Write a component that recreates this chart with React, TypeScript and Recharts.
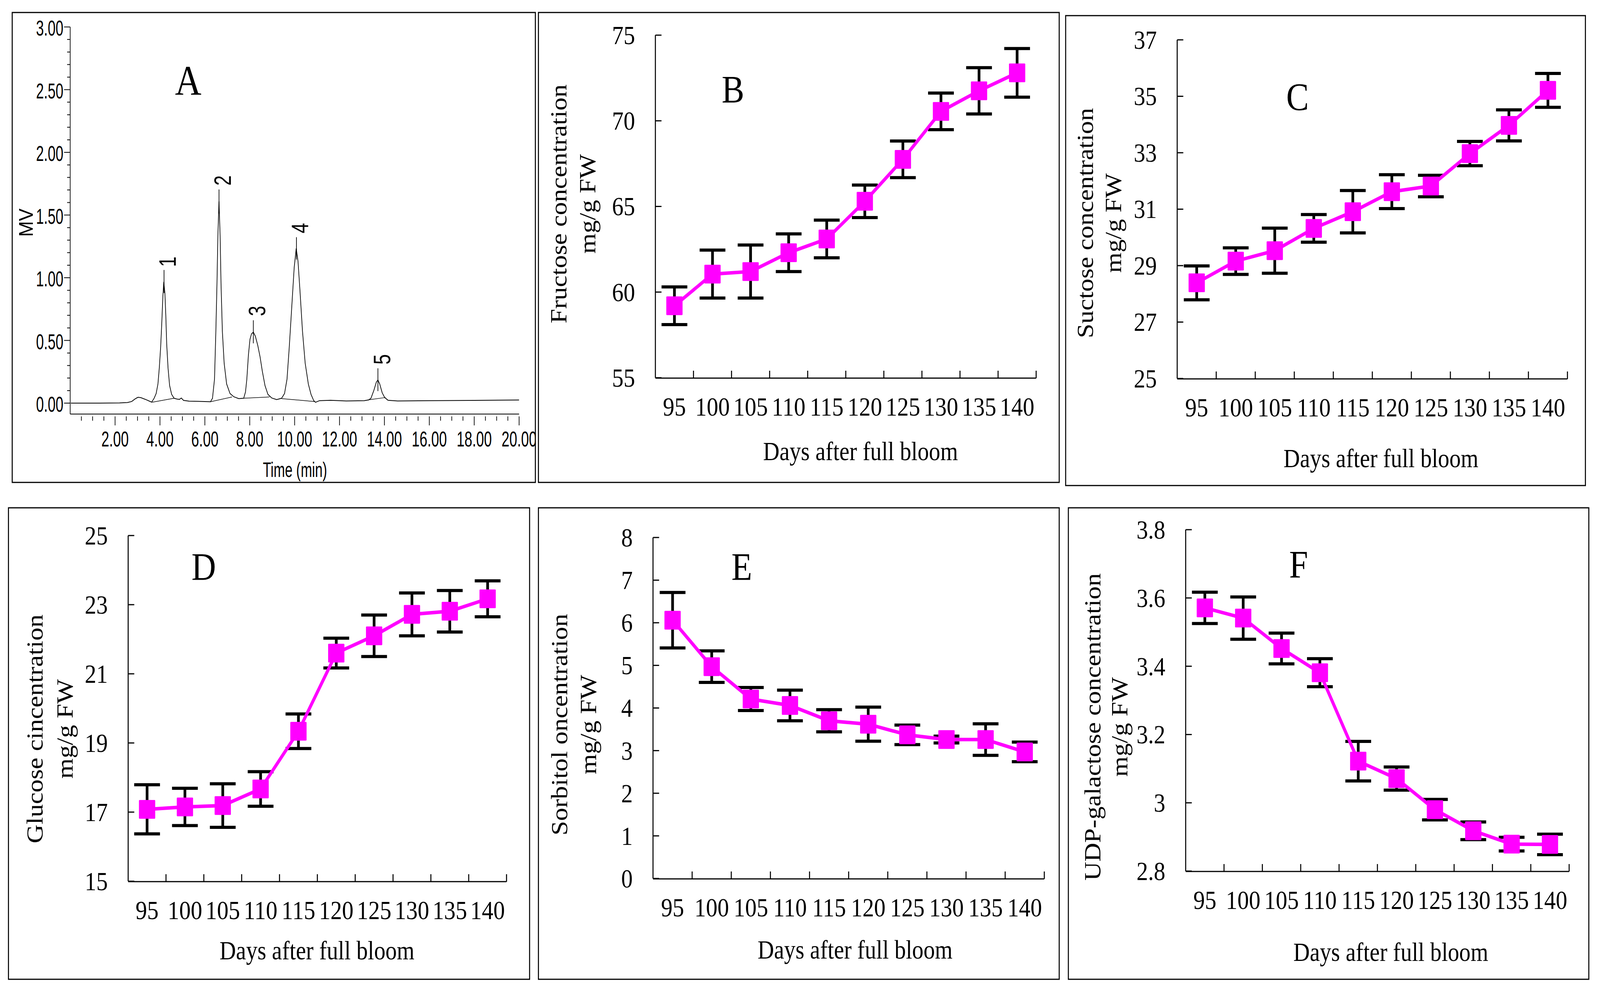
import React from 'react';
import { ComposedChart, LineChart, Line, XAxis, YAxis, ErrorBar } from 'recharts';

// ---------- data ----------
const DAYS = [95, 100, 105, 110, 115, 120, 125, 130, 135, 140];
const DAY_BOUNDS = [97.5, 102.5, 107.5, 112.5, 117.5, 122.5, 127.5, 132.5, 137.5, 142.5];

const FRUCTOSE = [59.2, 61.05, 61.2, 62.3, 63.1, 65.3, 67.75, 70.55, 71.75, 72.8];
const FRUCTOSE_ERR = [1.1, 1.4, 1.55, 1.1, 1.1, 0.95, 1.07, 1.07, 1.35, 1.42];
const SUCROSE = [28.39, 29.16, 29.53, 30.32, 30.91, 31.62, 31.82, 32.97, 33.97, 35.21];
const SUCROSE_ERR = [0.6, 0.47, 0.8, 0.49, 0.75, 0.6, 0.38, 0.43, 0.55, 0.6];
const GLUCOSE = [17.08, 17.15, 17.19, 17.67, 19.34, 21.6, 22.1, 22.72, 22.81, 23.17];
const GLUCOSE_ERR = [0.71, 0.54, 0.63, 0.5, 0.5, 0.43, 0.6, 0.62, 0.6, 0.52];
const SORBITOL = [6.06, 4.97, 4.21, 4.06, 3.7, 3.62, 3.37, 3.26, 3.26, 2.97];
const SORBITOL_ERR = [0.65, 0.37, 0.27, 0.36, 0.26, 0.4, 0.23, 0.08, 0.37, 0.23];
const UDPGAL = [3.571, 3.541, 3.452, 3.381, 3.122, 3.071, 2.98, 2.918, 2.879, 2.878];
const UDPGAL_ERR = [0.046, 0.062, 0.045, 0.041, 0.058, 0.034, 0.03, 0.026, 0.02, 0.03];

const TICKS_B = [55, 60, 65, 70, 75];
const TICKS_C = [25, 27, 29, 31, 33, 35, 37];
const TICKS_D = [15, 17, 19, 21, 23, 25];
const TICKS_E = [0, 1, 2, 3, 4, 5, 6, 7, 8];
const TICKS_F = [2.8, 3, 3.2, 3.4, 3.6, 3.8];

// chromatogram trace (time in min, signal in MV)
const TRACE_T = [0.03, 1.0, 2.2, 2.55, 2.74, 2.9, 3.02, 3.15, 3.35, 3.63, 3.74, 3.83, 3.91, 3.97, 4.03, 4.08, 4.13, 4.17, 4.22, 4.26, 4.3, 4.36, 4.43, 4.52, 4.63, 4.75, 4.87, 4.95, 5.05, 5.3, 6.0, 6.25, 6.34, 6.43, 6.49, 6.54, 6.58, 6.63, 6.68, 6.72, 6.78, 6.86, 6.97, 7.12, 7.29, 7.51, 7.73, 7.81, 7.87, 7.94, 8.01, 8.08, 8.16, 8.25, 8.36, 8.46, 8.56, 8.68, 8.81, 8.98, 9.2, 9.42, 9.55, 9.66, 9.76, 9.87, 9.98, 10.07, 10.15, 10.24, 10.35, 10.47, 10.61, 10.73, 10.85, 10.93, 11.11, 11.6, 12.3, 13.1, 13.3, 13.4, 13.53, 13.64, 13.71, 13.79, 13.9, 14.01, 14.16, 14.6, 16, 18, 20];
const TRACE_MV = [0, 0, 0.002, 0.005, 0.013, 0.035, 0.047, 0.044, 0.03, 0.008, 0.039, 0.077, 0.153, 0.28, 0.445, 0.636, 0.852, 0.967, 0.878, 0.7, 0.471, 0.28, 0.14, 0.07, 0.039, 0.033, 0.03, 0.041, 0.022, 0.016, 0.013, 0.011, 0.039, 0.191, 0.573, 0.954, 1.335, 1.609, 1.335, 0.954, 0.573, 0.318, 0.153, 0.077, 0.051, 0.036, 0.039, 0.089, 0.191, 0.382, 0.509, 0.553, 0.566, 0.534, 0.458, 0.369, 0.255, 0.14, 0.07, 0.041, 0.028, 0.039, 0.077, 0.191, 0.445, 0.763, 1.081, 1.234, 1.132, 0.89, 0.573, 0.318, 0.153, 0.07, 0.02, 0.007, 0.02, 0.023, 0.017, 0.02, 0.026, 0.039, 0.102, 0.168, 0.185, 0.153, 0.083, 0.045, 0.023, 0.017, 0.02, 0.022, 0.025];

// integration baselines: [t1, mv1, t2, mv2]
const BASELINES = [
  [3.65, 0.007, 4.63, 0.039],
  [6.25, 0.011, 7.21, 0.049],
  [7.73, 0.039, 8.88, 0.049],
  [9.42, 0.036, 10.89, 0.013],
  [13.27, 0.026, 14.05, 0.045],
];
// peak marker ticks: [t, top, bottom]
const PEAK_MARKS = [
  [4.18, 1.062, 0.878],
  [6.63, 1.704, 1.513],
  [8.16, 0.661, 0.477],
  [10.08, 1.323, 1.145],
  [13.71, 0.278, 0.096],
];
const PEAK_NAMES = ['1', '2', '3', '4', '5'];
const PEAK_LABEL_T = [4.32, 6.78, 8.31, 10.23, 13.87];
const PEAK_LABEL_MV = [1.128, 1.776, 0.735, 1.396, 0.349];

const A_Y_TICKS = [0, 0.1, 0.2, 0.3, 0.4, 0.5, 0.6, 0.7, 0.8, 0.9, 1, 1.1, 1.2, 1.3, 1.4, 1.5, 1.6, 1.7, 1.8, 1.9, 2, 2.1, 2.2, 2.3, 2.4, 2.5, 2.6, 2.7, 2.8, 2.9, 3];
const A_X_TICKS = [0.5, 1, 1.5, 2, 2.5, 3, 3.5, 4, 4.5, 5, 5.5, 6, 6.5, 7, 7.5, 8, 8.5, 9, 9.5, 10, 10.5, 11, 11.5, 12, 12.5, 13, 13.5, 14, 14.5, 15, 15.5, 16, 16.5, 17, 17.5, 18, 18.5, 19, 19.5, 20];

// ---------- styles ----------
const SERIF = '"Liberation Serif", "Times New Roman", serif';
const SANS = '"Liberation Sans", Arial, sans-serif';
const MAGENTA = '#FF00FF';
const FIG_W = 4719;
const FIG_H = 2537;

type Box = { l: number; t: number; w: number; h: number };
type Plot = { l: number; t: number; r: number; b: number };

const BOX_A: Box = { l: 36, t: 32, w: 1543, h: 1203 };
const PLOT_A: Plot = { l: 207, t: 69, r: 1531, b: 1060 };

type PanelCfg = {
  box: Box;
  plot: Plot;
  values: number[];
  errors: number[];
  domain: [number, number];
  ticks: number[];
  title1: string;
  title2: string;
  xTitleX: number;
  xTitleY: number;
  yLine1X: number;
  yLine2X: number;
  yTitleY: number;
  letter: string;
  letterX: number;
  letterY: number;
};

const PANELS: PanelCfg[] = [
  {
    box: { l: 1588, t: 32, w: 1536, h: 1203 }, plot: { l: 1933, t: 90, r: 3056, b: 967 },
    values: FRUCTOSE, errors: FRUCTOSE_ERR, domain: [55, 75], ticks: TICKS_B,
    title1: 'Fructose concentration', title2: 'mg/g FW',
    xTitleX: 2538, xTitleY: 1178, yLine1X: 1671, yLine2X: 1756, yTitleY: 522,
    letter: 'B', letterX: 2162, letterY: 262,
  },
  {
    box: { l: 3143, t: 40, w: 1533, h: 1203 }, plot: { l: 3472, t: 102, r: 4623, b: 969 },
    values: SUCROSE, errors: SUCROSE_ERR, domain: [25, 37], ticks: TICKS_C,
    title1: 'Suctose concentration', title2: 'mg/g FW',
    xTitleX: 4073, xTitleY: 1196, yLine1X: 3223, yLine2X: 3306, yTitleY: 571,
    letter: 'C', letterX: 3827, letterY: 281,
  },
  {
    box: { l: 25, t: 1300, w: 1537, h: 1207 }, plot: { l: 378, t: 1371, r: 1494, b: 2256 },
    values: GLUCOSE, errors: GLUCOSE_ERR, domain: [15, 25], ticks: TICKS_D,
    title1: 'Glucose cincentration', title2: 'mg/g FW',
    xTitleX: 935, xTitleY: 2456, yLine1X: 126, yLine2X: 214, yTitleY: 1866,
    letter: 'D', letterX: 601, letterY: 1484,
  },
  {
    box: { l: 1588, t: 1300, w: 1536, h: 1207 }, plot: { l: 1926, t: 1376, r: 3080, b: 2249 },
    values: SORBITOL, errors: SORBITOL_ERR, domain: [0, 8], ticks: TICKS_E,
    title1: 'Sorbitol oncentration', title2: 'mg/g FW',
    xTitleX: 2522, xTitleY: 2454, yLine1X: 1673, yLine2X: 1758, yTitleY: 1855,
    letter: 'E', letterX: 2188, letterY: 1484,
  },
  {
    box: { l: 3151, t: 1300, w: 1535, h: 1207 }, plot: { l: 3497, t: 1356, r: 4628, b: 2230 },
    values: UDPGAL, errors: UDPGAL_ERR, domain: [2.8, 3.8], ticks: TICKS_F,
    title1: 'UDP-galactose concentration', title2: 'mg/g FW',
    xTitleX: 4102, xTitleY: 2460, yLine1X: 3245, yLine2X: 3325, yTitleY: 1861,
    letter: 'F', letterX: 3830, letterY: 1478,
  },
];

// ---------- panels B-F ----------
const SquareDot = (p: any) => {
  if (p.cx == null || p.cy == null) return <g key={`sq-${p.index}`} />;
  return <rect key={`sq-${p.index}`} x={p.cx - 24} y={p.cy - 24} width={48} height={48} rx={2} fill={MAGENTA} />;
};

const DayTick = (p: any) => (
  <text x={p.x} y={p.y + 97} textAnchor="middle" fontFamily={SERIF} fontSize={68} fill="#000">
    {p.payload.value}
  </text>
);

const ValTick = (p: any) => (
  <text x={p.x} y={p.y + 23} textAnchor="end" fontFamily={SERIF} fontSize={68} fill="#000">
    {p.payload.value}
  </text>
);

const EmptyTick = () => <g />;

function LinePanel({ cfg }: { cfg: PanelCfg }) {
  const { box, plot } = cfg;
  const rows = DAYS.map((d, i) => ({ day: d, v: cfg.values[i], e: cfg.errors[i] }));
  const YW = 60;
  const margin = {
    left: plot.l - box.l - YW,
    top: plot.t - box.t,
    right: box.l + box.w - plot.r,
    bottom: box.t + box.h - plot.b - 2,
  };
  const xTitle = () => (
    <text x={cfg.xTitleX - box.l} y={cfg.xTitleY - box.t} textAnchor="middle" fontFamily={SERIF} fontSize={67} fill="#000">
      Days after full bloom
    </text>
  );
  const yTitle = () => (
    <g>
      <text transform={`translate(${cfg.yLine1X - box.l},${cfg.yTitleY - box.t}) rotate(-90)`} textAnchor="middle" fontFamily={SERIF} fontSize={67} fill="#000">
        {cfg.title1}
      </text>
      <text transform={`translate(${cfg.yLine2X - box.l},${cfg.yTitleY - box.t}) rotate(-90)`} textAnchor="middle" fontFamily={SERIF} fontSize={67} fill="#000">
        {cfg.title2}
      </text>
    </g>
  );
  return (
    <div style={{ position: 'absolute', left: box.l, top: box.t, width: box.w, height: box.h }}>
      <LineChart width={box.w} height={box.h} data={rows} margin={margin}>
        <XAxis
          xAxisId="grid" type="number" dataKey="day" domain={[92.5, 142.5]} ticks={DAY_BOUNDS}
          interval={0} height={1} tickSize={-19} tick={EmptyTick} allowDataOverflow
          axisLine={{ stroke: '#000', strokeWidth: 3 }} tickLine={{ stroke: '#000', strokeWidth: 3 }}
        />
        <XAxis
          xAxisId="day" type="number" dataKey="day" domain={[92.5, 142.5]} ticks={DAYS}
          interval={0} height={1} tickSize={0} tickMargin={0} axisLine={false} tickLine={false}
          tick={DayTick} allowDataOverflow label={xTitle}
        />
        <YAxis
          type="number" domain={cfg.domain} ticks={cfg.ticks} interval={0} width={YW}
          tickSize={-18} tickMargin={78} allowDataOverflow tick={ValTick}
          axisLine={{ stroke: '#000', strokeWidth: 3 }} tickLine={{ stroke: '#000', strokeWidth: 3 }}
          label={yTitle}
        />
        <Line
          xAxisId="day" type="linear" dataKey="v" stroke={MAGENTA} strokeWidth={9}
          dot={false} activeDot={false} isAnimationActive={false}
        >
          <ErrorBar dataKey="e" direction="y" width={38} strokeWidth={8} stroke="#000" isAnimationActive={false} zIndex={350} />
        </Line>
        <Line
          xAxisId="day" type="linear" dataKey="v" stroke="none"
          dot={SquareDot} activeDot={false} isAnimationActive={false}
        />
      </LineChart>
    </div>
  );
}

// ---------- panel A ----------
const isMultiple = (v: number, step: number) => Math.abs(v / step - Math.round(v / step)) < 1e-6;

const AYTick = (p: any) => {
  const v = p.payload.value;
  const major = isMultiple(v, 0.5);
  return (
    <g>
      <line x1={p.x - (major ? 18 : 9)} x2={p.x} y1={p.y} y2={p.y} stroke="#000" strokeWidth={2} />
      {major && (
        <text transform={`translate(${p.x - 20},${p.y + 22}) scale(0.74,1)`} textAnchor="end" fontFamily={SANS} fontSize={56} fill="#000">
          {v.toFixed(2)}
        </text>
      )}
    </g>
  );
};

const AXTick = (p: any) => {
  const v = p.payload.value;
  const major = isMultiple(v, 2);
  return (
    <g>
      <line x1={p.x} x2={p.x} y1={p.y + 6} y2={p.y + 6 + (major ? 23 : 11)} stroke="#000" strokeWidth={2} />
      {major && (
        <text transform={`translate(${p.x},${p.y + 83}) scale(0.74,1)`} textAnchor="middle" fontFamily={SANS} fontSize={56} fill="#000">
          {v.toFixed(2)}
        </text>
      )}
    </g>
  );
};

const PeakLabel = (p: any) => {
  if (p.cx == null || p.cy == null) return <g key={`pl-${p.index}`} />;
  return (
    <text
      key={`pl-${p.index}`}
      transform={`translate(${p.cx},${p.cy}) rotate(-90) scale(0.68,1)`}
      textAnchor="middle" dy="0.36em" fontFamily={SANS} fontSize={70} fill="#000"
    >
      {p.payload.name}
    </text>
  );
};

function PanelA() {
  const box = BOX_A;
  const plot = PLOT_A;
  const YW = 60;
  const margin = {
    left: plot.l - box.l - YW,
    top: plot.t - box.t,
    right: box.l + box.w - plot.r,
    bottom: box.t + box.h - plot.b - 1,
  };
  const trace = TRACE_T.map((t, i) => ({ t, mv: TRACE_MV[i] }));
  const baseLines = BASELINES.map((b) => [{ t: b[0], mv: b[1] }, { t: b[2], mv: b[3] }]);
  const marks = PEAK_MARKS.map((m) => [{ t: m[0], mv: m[1] }, { t: m[0], mv: m[2] }]);
  const labels = PEAK_NAMES.map((name, i) => ({ t: PEAK_LABEL_T[i], mv: PEAK_LABEL_MV[i], name }));
  const xTitle = () => (
    <text transform={`translate(${870 - box.l},${1221 - box.t}) scale(0.74,1)`} textAnchor="middle" fontFamily={SANS} fontSize={54} fill="#000">
      Time (min)
    </text>
  );
  const yTitle = () => (
    <text transform={`translate(${97 - box.l},${570 - box.t}) rotate(-90) scale(0.85,1)`} textAnchor="middle" fontFamily={SANS} fontSize={57} fill="#000">
      MV
    </text>
  );
  return (
    <div style={{ position: 'absolute', left: box.l, top: box.t, width: box.w, height: box.h }}>
      <ComposedChart width={box.w} height={box.h} margin={margin}>
        <XAxis
          type="number" dataKey="t" domain={[0, 20]} ticks={A_X_TICKS} interval={0} height={1}
          tickSize={0} tickMargin={0} tickLine={false} axisLine={{ stroke: '#000', strokeWidth: 2 }}
          tick={AXTick} allowDataOverflow label={xTitle}
        />
        <YAxis
          type="number" domain={[-0.087, 3]} ticks={A_Y_TICKS} interval={0} width={YW}
          tickSize={0} tickMargin={0} tickLine={false} axisLine={{ stroke: '#000', strokeWidth: 2 }}
          tick={AYTick} allowDataOverflow label={yTitle}
        />
        <Line data={trace} dataKey="mv" type="linear" stroke="#000" strokeWidth={2} dot={false} activeDot={false} isAnimationActive={false} />
        {baseLines.map((d, i) => (
          <Line key={`bl${i}`} data={d} dataKey="mv" type="linear" stroke="#000" strokeWidth={1.5} dot={false} activeDot={false} isAnimationActive={false} />
        ))}
        {marks.map((d, i) => (
          <Line key={`pm${i}`} data={d} dataKey="mv" type="linear" stroke="#000" strokeWidth={2} dot={false} activeDot={false} isAnimationActive={false} />
        ))}
        <Line data={labels} dataKey="mv" stroke="none" dot={PeakLabel} activeDot={false} isAnimationActive={false} />
      </ComposedChart>
    </div>
  );
}

// ---------- frames & letters ----------
function Overlay() {
  const frames: Box[] = [BOX_A, ...PANELS.map((p) => p.box)];
  return (
    <svg width={FIG_W} height={FIG_H} style={{ position: 'absolute', left: 0, top: 0, pointerEvents: 'none' }}>
      {frames.map((b, i) => (
        <rect key={i} x={b.l} y={b.t} width={b.w} height={b.h} fill="none" stroke="#000" strokeWidth={3} />
      ))}
      <text x={555} y={243} textAnchor="middle" fontFamily={SERIF} fontSize={108} fill="#000">A</text>
      {PANELS.map((p) => (
        <text key={p.letter} x={p.letterX} y={p.letterY} textAnchor="middle" fontFamily={SERIF} fontSize={100} fill="#000">
          {p.letter}
        </text>
      ))}
    </svg>
  );
}

export default function App() {
  // the browser viewport can be narrower than the figure; fit the figure to it
  const vw = typeof window !== 'undefined' ? window.innerWidth : FIG_W;
  const vh = typeof window !== 'undefined' ? window.innerHeight : FIG_H;
  const sx = Math.min(1, vw / FIG_W);
  const sy = Math.min(1, vh / FIG_H);
  return (
    <div
      style={{
        position: 'absolute', left: 0, top: 0, width: FIG_W, height: FIG_H, background: '#fff',
        transform: `scale(${sx},${sy})`, transformOrigin: '0 0',
      }}
    >
      <PanelA />
      {PANELS.map((p) => (
        <LinePanel key={p.letter} cfg={p} />
      ))}
      <Overlay />
    </div>
  );
}
